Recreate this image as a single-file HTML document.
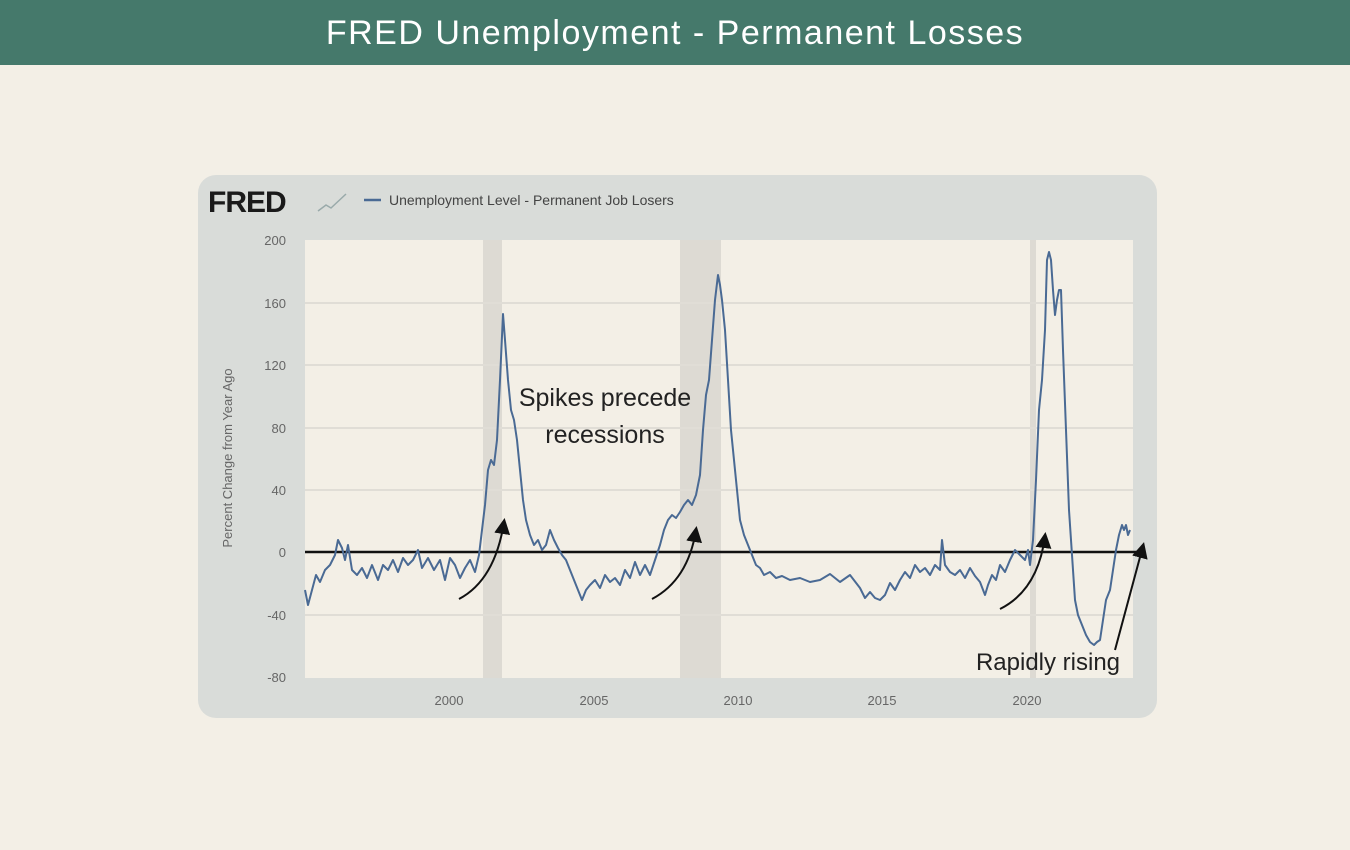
<!DOCTYPE html>
<html><head><meta charset="utf-8"><style>
body{margin:0;width:1350px;height:850px;background:#f3efe6;overflow:hidden;font-family:"Liberation Sans",sans-serif;}
.hdr{position:absolute;left:0;top:0;width:1350px;height:65px;background:#45796b;color:#fff;font-size:34px;text-align:center;line-height:66px;letter-spacing:1.5px;}
</style></head><body>
<div class="hdr">FRED Unemployment - Permanent Losses</div>
<svg width="1350" height="850" style="position:absolute;left:0;top:0">
<rect x="198" y="175" width="959" height="543" rx="18" fill="#d9dcd9"/>
<rect x="305" y="240" width="828" height="438" fill="#f3efe6"/>
<rect x="483" y="240" width="19" height="438" fill="#dddad3"/>
<rect x="680" y="240" width="41" height="438" fill="#dddad3"/>
<rect x="1030" y="240" width="6" height="438" fill="#dddad3"/>
<g stroke="#e0ddd6" stroke-width="2">
<line x1="305" y1="303" x2="1133" y2="303"/><line x1="305" y1="365" x2="1133" y2="365"/>
<line x1="305" y1="428" x2="1133" y2="428"/><line x1="305" y1="490" x2="1133" y2="490"/>
<line x1="305" y1="615" x2="1133" y2="615"/>
</g>
<g font-size="13" fill="#666" text-anchor="end">
<text x="286" y="245">200</text><text x="286" y="308">160</text><text x="286" y="370">120</text>
<text x="286" y="433">80</text><text x="286" y="495">40</text><text x="286" y="557">0</text>
<text x="286" y="620">-40</text><text x="286" y="682">-80</text>
</g>
<g font-size="13" fill="#666" text-anchor="middle">
<text x="449" y="705">2000</text><text x="594" y="705">2005</text><text x="738" y="705">2010</text>
<text x="882" y="705">2015</text><text x="1027" y="705">2020</text>
</g>
<text transform="translate(232,458) rotate(-90)" font-size="13" fill="#666" text-anchor="middle">Percent Change from Year Ago</text>
<text x="208" y="212" font-size="30" font-weight="bold" fill="#1a1a1a" letter-spacing="-1">FRED</text>
<path d="M318 211 L326 205 L331 208 L346 194" stroke="#9aa" stroke-width="1.5" fill="none"/>
<line x1="364" y1="200" x2="381" y2="200" stroke="#4a6a94" stroke-width="2.5"/>
<text x="389" y="205" font-size="14" fill="#444">Unemployment Level - Permanent Job Losers</text>
<line x1="305" y1="552" x2="1145" y2="552" stroke="#111" stroke-width="2.5"/>
<polyline fill="none" stroke="#4a6a94" stroke-width="2" stroke-linejoin="round" points="305,590 308,605 312,590 316,575 320,582 325,570 330,565 335,555 338,540 342,548 345,560 348,545 352,570 357,575 362,568 367,578 372,565 378,580 383,565 388,570 393,560 398,572 403,558 408,565 413,560 418,550 422,568 428,558 434,570 440,560 445,580 450,558 455,565 460,578 465,568 470,560 475,572 479,555 482,530 485,505 488,470 491,460 494,465 497,440 500,380 503,314 505,340 508,380 511,410 514,420 517,440 520,470 523,500 526,520 530,535 534,545 538,540 542,550 546,545 550,530 554,540 558,548 562,555 566,560 570,570 574,580 578,590 582,600 586,590 590,585 595,580 600,588 605,575 610,582 615,578 620,585 625,570 630,578 635,562 640,575 645,565 650,575 655,560 660,545 664,530 668,520 672,515 676,518 680,512 684,505 688,500 692,505 696,495 700,475 703,430 706,395 709,380 712,340 715,300 718,275 720,285 722,300 725,330 728,380 731,430 734,460 737,490 740,520 744,535 748,545 752,555 756,565 760,568 764,575 770,572 776,578 782,576 790,580 800,578 810,582 820,580 830,574 840,582 850,575 860,588 865,598 870,592 875,598 880,600 885,595 890,583 895,590 900,580 905,572 910,578 915,565 920,572 925,568 930,575 935,565 940,570 942,540 945,565 950,572 955,575 960,570 965,578 970,568 975,576 980,582 985,595 988,585 992,575 996,580 1000,565 1005,572 1010,560 1015,550 1020,555 1025,560 1028,550 1030,565 1033,540 1036,480 1039,410 1042,380 1045,330 1047,260 1049,252 1051,260 1053,290 1055,315 1057,300 1059,290 1061,290 1063,350 1066,430 1069,510 1072,555 1075,600 1078,615 1082,625 1086,635 1090,642 1094,645 1097,642 1100,640 1103,620 1106,600 1110,590 1113,570 1116,550 1119,535 1122,525 1124,530 1126,525 1128,535 1130,530"/>
<defs><marker id="ah" markerWidth="8" markerHeight="8" refX="6" refY="4" orient="auto"><path d="M0,0 L8,4 L0,8 Z" fill="#111"/></marker></defs>
<g stroke="#111" stroke-width="2" fill="none" marker-end="url(#ah)">
<path d="M459 599 Q495 580 504 522"/>
<path d="M652 599 Q688 580 696 530"/>
<path d="M1000 609 Q1038 590 1045 536"/>
<path d="M1115 650 L1143 546"/>
</g>
<g font-size="25" fill="#222" text-anchor="middle">
<text x="605" y="406">Spikes precede</text><text x="605" y="443">recessions</text>
</g>
<text x="1048" y="670" font-size="24" fill="#222" text-anchor="middle">Rapidly rising</text>
</svg>
</body></html>
